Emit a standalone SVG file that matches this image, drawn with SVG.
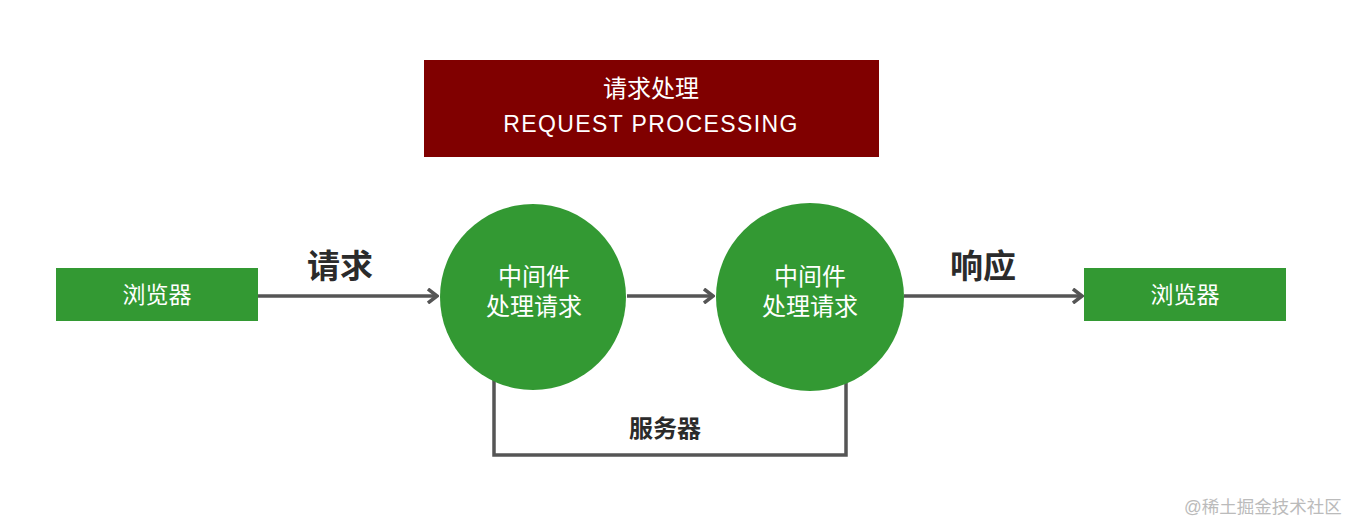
<svg xmlns="http://www.w3.org/2000/svg" width="1350" height="524" viewBox="0 0 1350 524">
<defs>
<style>
.t{font-family:"Liberation Sans","Noto Sans CJK SC",sans-serif;text-anchor:middle;dominant-baseline:central}
.w{fill:#fff;font-size:23px}
.b{fill:#2b2b2b;font-weight:bold}
.box{fill:#339933}
.c{stroke:#555;stroke-width:3.5;fill:none}
</style>
<marker id="ah" viewBox="0 0 12 16" markerWidth="12" markerHeight="16" refX="10" refY="8" orient="auto" markerUnits="userSpaceOnUse">
<path d="M1 1 L10 8 L1 15" fill="none" stroke="#555" stroke-width="3.5"/>
</marker>
</defs>
<rect width="1350" height="524" fill="#fff"/>
<g id="title">
<rect x="424" y="60" width="455" height="97" fill="#800000"/>
<text class="t w" x="651" y="88" style="font-size:24px">请求处理</text>
<text class="t w" x="651" y="124" style="font-size:23px;letter-spacing:1.4px">REQUEST PROCESSING</text>
</g>
<g id="connectors">
<line class="c" x1="258" y1="296" x2="437" y2="296" marker-end="url(#ah)"/>
<line class="c" x1="627" y1="296" x2="713" y2="296" marker-end="url(#ah)"/>
<line class="c" x1="904" y1="296" x2="1082" y2="296" marker-end="url(#ah)"/>
<polyline class="c" points="494,376 494,455 846,455 846,376"/>
<text class="t b" x="340" y="266" style="font-size:33px">请求</text>
<text class="t b" x="983" y="266" style="font-size:33px">响应</text>
<text class="t b" x="665" y="428" style="font-size:24px">服务器</text>
</g>
<g id="browser-left">
<rect class="box" x="56" y="268" width="202" height="53"/>
<text class="t w" x="157" y="295">浏览器</text>
</g>
<g id="mw1">
<circle cx="533" cy="297" r="93" fill="#339933"/>
<text class="t w" x="534" y="276" style="font-size:24px">中间件</text>
<text class="t w" x="534" y="306" style="font-size:24px">处理请求</text>
</g>
<g id="mw2">
<circle cx="810" cy="297" r="94" fill="#339933"/>
<text class="t w" x="810" y="276" style="font-size:24px">中间件</text>
<text class="t w" x="810" y="306" style="font-size:24px">处理请求</text>
</g>
<g id="browser-right">
<rect class="box" x="1084" y="268" width="202" height="53"/>
<text class="t w" x="1185" y="295">浏览器</text>
</g>
<text class="t" x="1263" y="507" style="font-size:17.5px;fill:#bbb">@稀土掘金技术社区</text>
</svg>
